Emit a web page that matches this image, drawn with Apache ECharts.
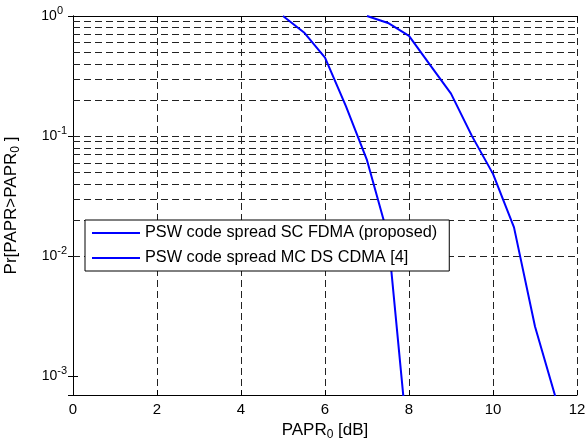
<!DOCTYPE html>
<html>
<head>
<meta charset="utf-8">
<script src="https://cdn.jsdelivr.net/npm/echarts@6/dist/echarts.min.js"></script>
<style>
  html, body { margin: 0; padding: 0; background: #fff; }
  #chart { width: 585px; height: 443px; }
</style>
</head>
<body>
<div id="chart"></div>
<script>
// PAPR CCDF curves
var xProposed = [5, 5.5, 6, 6.5, 7, 7.5, 8];
var yProposed = [1.0, 0.73, 0.45, 0.177, 0.063, 0.0148, 0.00022];
var xMcds = [7, 7.5, 8, 8.5, 9, 9.5, 10, 10.5, 11, 11.5];
var yMcds = [1.0, 0.875, 0.684, 0.392, 0.226, 0.1, 0.0485, 0.0174, 0.0026, 0.00065];
var seriesNames = ['PSW code spread SC FDMA (proposed)', 'PSW code spread MC DS CDMA [4]'];
var xTicks = [0, 2, 4, 6, 8, 10, 12];
var yMin = 0.0007, yMax = 1;
var yGridValues = [0.0007, 0.0008, 0.0009,
  0.001, 0.002, 0.003, 0.004, 0.005, 0.006, 0.007, 0.008, 0.009,
  0.01, 0.02, 0.03, 0.04, 0.05, 0.06, 0.07, 0.08, 0.09,
  0.1, 0.2, 0.3, 0.4, 0.5, 0.6, 0.7, 0.8, 0.9];

function pairs(xs, ys) {
  var out = [];
  for (var i = 0; i < xs.length; i++) out.push([xs[i], ys[i]]);
  return out;
}

var font = "'Liberation Sans', Arial, Helvetica, sans-serif";
var gridLine = { color: '#222', width: 1, type: [7, 4] };

var myChart = echarts.init(document.getElementById('chart'));
var option = {
  animation: false,
  backgroundColor: '#fff',
  textStyle: { fontFamily: font },
  grid: { left: 73, right: 8, top: 16, bottom: 48, outerBoundsMode: 'none', containLabel: false },
  legend: {
    orient: 'vertical',
    left: 85,
    top: 220,
    data: seriesNames,
    icon: 'path://M0,0 L48,0 L48,2 L0,2 Z',
    backgroundColor: '#fff',
    borderColor: '#000',
    borderWidth: 1,
    borderRadius: 0,
    padding: [5, 12, 5, 7],
    itemWidth: 48,
    itemHeight: 16,
    itemGap: 9,
    textStyle: { fontFamily: font, fontSize: 16.3, color: '#000', lineHeight: 16 }
  },
  xAxis: [{
    type: 'value',
    min: xTicks[0], max: xTicks[xTicks.length - 1], interval: 2,
    name: '{t|PAPR}{s|0}{t| [dB]}',
    nameLocation: 'middle',
    nameGap: 8,
    nameTextStyle: {
      rich: {
        t: { fontFamily: font, fontSize: 17, color: '#000' },
        s: { fontFamily: font, fontSize: 12, color: '#000', padding: [9, 0, 0, 0] }
      }
    },
    axisLine: { lineStyle: { color: '#000', width: 1 } },
    axisTick: { inside: true, length: 5, lineStyle: { color: '#000' } },
    axisLabel: { color: '#000', fontSize: 15, fontFamily: font, margin: 7 },
    splitLine: { show: true, lineStyle: gridLine }
  }, {
    type: 'value', position: 'top',
    min: xTicks[0], max: xTicks[xTicks.length - 1], interval: 2,
    axisLine: { show: true, lineStyle: { color: '#000', width: 1 } },
    axisTick: { inside: true, length: 5, lineStyle: { color: '#000' } },
    axisLabel: { show: false },
    splitLine: { show: false }
  }],
  yAxis: [{
    type: 'log',
    min: yMin, max: yMax,
    name: '{t|Pr[PAPR>PAPR}{s|0}{t| ]}',
    nameLocation: 'middle',
    nameGap: 51,
    nameTextStyle: {
      rich: {
        t: { fontFamily: font, fontSize: 17, color: '#000' },
        s: { fontFamily: font, fontSize: 12, color: '#000', padding: [9, 0, 0, 0] }
      }
    },
    axisLine: { show: true, lineStyle: { color: '#000', width: 1 } },
    axisTick: { inside: true, length: 5, lineStyle: { color: '#000' } },
    axisLabel: {
      margin: 6,
      formatter: function (v) {
        var e = Math.round(Math.log10(v));
        if (Math.abs(v - Math.pow(10, e)) / v > 1e-6) return '';
        var s = String(e);
        return '{b|10}{' + (s.length > 1 ? 'p2' : 'p1') + '|' + s + '}';
      },
      rich: {
        b: { fontFamily: font, fontSize: 14, color: '#000' },
        p1: { fontFamily: font, fontSize: 11, color: '#000', padding: [0, 4, 10, 0] },
        p2: { fontFamily: font, fontSize: 11, color: '#000', padding: [0, 0, 10, 0] }
      }
    },
    splitLine: { show: false }
  }, {
    type: 'log', position: 'right',
    min: yMin, max: yMax,
    axisLine: { show: true, lineStyle: { color: '#000', width: 1 } },
    axisTick: { inside: true, length: 5, lineStyle: { color: '#000' } },
    axisLabel: { show: false },
    splitLine: { show: false }
  }],
  series: [{
    // carrier for the log grid lines
    type: 'line',
    data: [],
    z: 1,
    silent: true,
    markLine: {
      z: 1,
      silent: true,
      symbol: 'none',
      label: { show: false },
      lineStyle: gridLine,
      data: yGridValues.map(function (v) { return { yAxis: v }; })
    }
  }, {
    name: seriesNames[0],
    type: 'line',
    z: 3,
    symbol: 'none',
    color: '#0000ff',
    lineStyle: { color: '#0000ff', width: 2 },
    data: pairs(xProposed, yProposed)
  }, {
    name: seriesNames[1],
    type: 'line',
    z: 3,
    symbol: 'none',
    color: '#0000ff',
    lineStyle: { color: '#0000ff', width: 2 },
    data: pairs(xMcds, yMcds)
  }]
};
myChart.setOption(option);
</script>
</body>
</html>
